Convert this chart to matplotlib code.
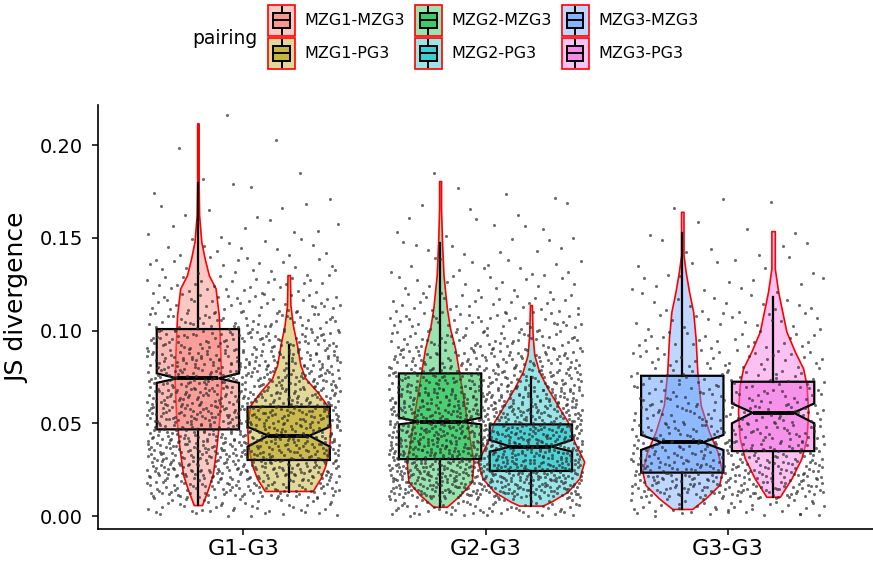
import numpy as np
import matplotlib
matplotlib.use('Agg')
import matplotlib.pyplot as plt
from matplotlib.colors import to_rgba
from matplotlib.patches import Rectangle
from matplotlib.lines import Line2D
from matplotlib.legend_handler import HandlerBase

# ---- data ----
groups = ['G1-G3', 'G2-G3', 'G3-G3']
pairings = ['MZG1-MZG3', 'MZG1-PG3', 'MZG2-MZG3', 'MZG2-PG3', 'MZG3-MZG3', 'MZG3-PG3']
pair_group = [0, 0, 1, 1, 2, 2]
pair_side = [-1, 1, -1, 1, -1, 1]
colors = ['#F8766D', '#B79F00', '#00BA38', '#00BFC4', '#619CFF', '#F564E3']

# notched box summaries
box_med = [0.0742, 0.0433, 0.0508, 0.0374, 0.0397, 0.0557]
box_q1 = [0.0467, 0.0302, 0.0307, 0.0243, 0.0234, 0.0350]
box_q3 = [0.1008, 0.0589, 0.0769, 0.0494, 0.0756, 0.0724]
box_lo = [0.0059, 0.0131, 0.0050, 0.0056, 0.0038, 0.0104]
box_hi = [0.1793, 0.0922, 0.1470, 0.0751, 0.1524, 0.1182]
notch_lo = [0.0718, 0.0374, 0.0494, 0.0347, 0.0356, 0.0500]
notch_hi = [0.0769, 0.0481, 0.0530, 0.0410, 0.0437, 0.0607]

# violin outlines: y levels and half widths (x units)
vio_y = [
    [0.2117, 0.1982, 0.1802, 0.1623, 0.1479, 0.1389, 0.1299, 0.1227, 0.1084, 0.0904, 0.0724, 0.0544, 0.0365, 0.0221, 0.0131, 0.0059],
    [0.1299, 0.1137, 0.1030, 0.0922, 0.0814, 0.0742, 0.0670, 0.0598, 0.0491, 0.0383, 0.0275, 0.0203, 0.0135],
    [0.1806, 0.1659, 0.1479, 0.1299, 0.1120, 0.1012, 0.0904, 0.0760, 0.0580, 0.0401, 0.0293, 0.0185, 0.0113, 0.0050],
    [0.1137, 0.0976, 0.0868, 0.0778, 0.0688, 0.0598, 0.0508, 0.0401, 0.0293, 0.0203, 0.0131, 0.0077, 0.0056],
    [0.1640, 0.1407, 0.1317, 0.1209, 0.1101, 0.0958, 0.0778, 0.0598, 0.0455, 0.0347, 0.0239, 0.0167, 0.0095, 0.0038],
    [0.1536, 0.1335, 0.1209, 0.1101, 0.0994, 0.0886, 0.0796, 0.0706, 0.0562, 0.0419, 0.0311, 0.0203, 0.0104],
]
vio_w = [
    [.003, .003, .003, .005, .014, .028, .045, .073, .086, .092, .096, .090, .076, .061, .038, .017],
    [.005, .007, .017, .034, .048, .069, .117, .158, .172, .168, .152, .131, .099],
    [.004, .004, .008, .014, .028, .041, .062, .080, .103, .124, .138, .131, .083, .028],
    [.004, .007, .014, .034, .069, .110, .152, .179, .220, .200, .152, .083, .048],
    [.005, .005, .014, .028, .045, .055, .062, .076, .110, .145, .165, .152, .096, .041],
    [.007, .007, .021, .038, .055, .090, .124, .138, .145, .138, .117, .076, .028],
]

# jittered points: counts per 0.01-wide bin (from 0.00 upward), per group
bin_w = 0.01
g1_counts = [45, 100, 135, 140, 140, 140, 130, 120, 105, 85, 60, 42, 30, 20, 13, 9, 6, 4, 2, 1, 1, 1]
g2_counts = [70, 170, 190, 185, 175, 160, 140, 115, 85, 62, 45, 30, 20, 14, 10, 7, 5, 3, 1]
g3_counts = [45, 105, 105, 85, 72, 58, 48, 40, 32, 25, 19, 15, 11, 8, 6, 4, 2, 1]
group_counts = [g1_counts, g2_counts, g3_counts]

dodge = 0.1875
box_width = 0.34
jit = 0.4


def halton(k, base):
    f, r = 1.0, 0.0
    while k > 0:
        f /= base
        r += f * (k % base)
        k //= base
    return r


def jitter(counts, center, start):
    # deterministic jitter (Halton 2/3) spread over the group width
    xs, ys = [], []
    k = start
    for b, n in enumerate(counts):
        for i in range(n):
            k += 1
            ys.append((b + halton(k, 3)) * bin_w)
            xs.append(center + (halton(k, 2) * 2 - 1) * jit)
    return xs, ys


class BoxViolinHandler(HandlerBase):
    def create_artists(self, legend, orig_handle, xdescent, ydescent,
                       width, height, fontsize, trans):
        col = orig_handle.key_color
        x0, y0 = -xdescent, -ydescent
        bg = Rectangle((x0, y0), width, height, facecolor=to_rgba(col, 0.4),
                       edgecolor='red', linewidth=1.2, transform=trans)
        bx = Rectangle((x0 + 0.2 * width, y0 + 0.25 * height), 0.6 * width, 0.5 * height,
                       facecolor=to_rgba(col, 0.6), edgecolor='black', linewidth=1.4,
                       transform=trans)
        cx = x0 + 0.5 * width
        med = Line2D([x0 + 0.2 * width, x0 + 0.8 * width], [y0 + 0.5 * height] * 2,
                     color='black', lw=1.4, transform=trans)
        w1 = Line2D([cx, cx], [y0 + 0.06 * height, y0 + 0.25 * height], color='black', lw=1.4, transform=trans)
        w2 = Line2D([cx, cx], [y0 + 0.75 * height, y0 + 0.94 * height], color='black', lw=1.4, transform=trans)
        return [bg, bx, med, w1, w2]


fig = plt.figure(figsize=(8.73, 5.63), dpi=100)
ax = fig.add_axes([98 / 873, 34 / 563, 775 / 873, 424 / 563])

# violins
for k in range(len(pairings)):
    pos = pair_group[k] + 1 + pair_side[k] * dodge
    y = np.array(vio_y[k])
    w = np.array(vio_w[k])
    ax.fill_betweenx(y, pos - w, pos + w, facecolor=to_rgba(colors[k], 0.4),
                     edgecolor='red', linewidth=1.2, zorder=2)

# notched boxes
stats = []
positions = []
for k in range(len(pairings)):
    stats.append(dict(med=box_med[k], q1=box_q1[k], q3=box_q3[k],
                      whislo=box_lo[k], whishi=box_hi[k],
                      cilo=notch_lo[k], cihi=notch_hi[k], fliers=[]))
    positions.append(pair_group[k] + 1 + pair_side[k] * dodge)
bp = ax.bxp(stats, positions=positions, widths=box_width, patch_artist=True,
            shownotches=True, showcaps=False, showfliers=False,
            boxprops=dict(edgecolor='black', linewidth=1.6),
            whiskerprops=dict(color='black', linewidth=1.6),
            medianprops=dict(color='black', linewidth=2.8),
            manage_ticks=False, zorder=3)
for patch, c in zip(bp['boxes'], colors):
    patch.set_facecolor(to_rgba(c, 0.5))

# jittered points
for g in range(len(groups)):
    xs, ys = jitter(group_counts[g], g + 1, 37 + 1000 * g)
    ax.scatter(xs, ys, s=5, color='#303030', alpha=0.7, linewidths=0, zorder=4)

ax.set_xlim(0.4, 3.6)
ax.set_ylim(-0.0070, 0.2216)
ax.set_xticks([1, 2, 3])
ax.set_xticklabels(groups, fontsize=16)
ax.set_yticks([0.0, 0.05, 0.10, 0.15, 0.20])
ax.set_yticklabels(['0.00', '0.05', '0.10', '0.15', '0.20'], fontsize=14)
ax.tick_params(axis='y', length=4, width=1.1, pad=7)
ax.tick_params(axis='x', length=4, width=1.1, pad=3)
for s in ['top', 'right']:
    ax.spines[s].set_visible(False)
for s in ['left', 'bottom']:
    ax.spines[s].set_linewidth(1.2)
fig.text(17 / 873, 1 - 298 / 563, 'JS divergence', fontsize=18, rotation=90,
         ha='center', va='center')

# legend
handles = []
for p, c in zip(pairings, colors):
    h = Rectangle((0, 0), 1, 1, label=p)
    h.key_color = c
    handles.append(h)
fig.legend(handles=handles, labels=pairings, ncol=3, loc='upper left',
           bbox_to_anchor=(268 / 873, 1 - 5 / 563), frameon=False, fontsize=11.5,
           handlelength=1.7, handleheight=2.6, handletextpad=0.6,
           columnspacing=0.6, labelspacing=0.12, borderpad=0, borderaxespad=0,
           handler_map={Rectangle: BoxViolinHandler()})
fig.text(192 / 873, 1 - 38 / 563, 'pairing', fontsize=13.5, ha='left', va='center')

fig.savefig('out.png', dpi=100)
